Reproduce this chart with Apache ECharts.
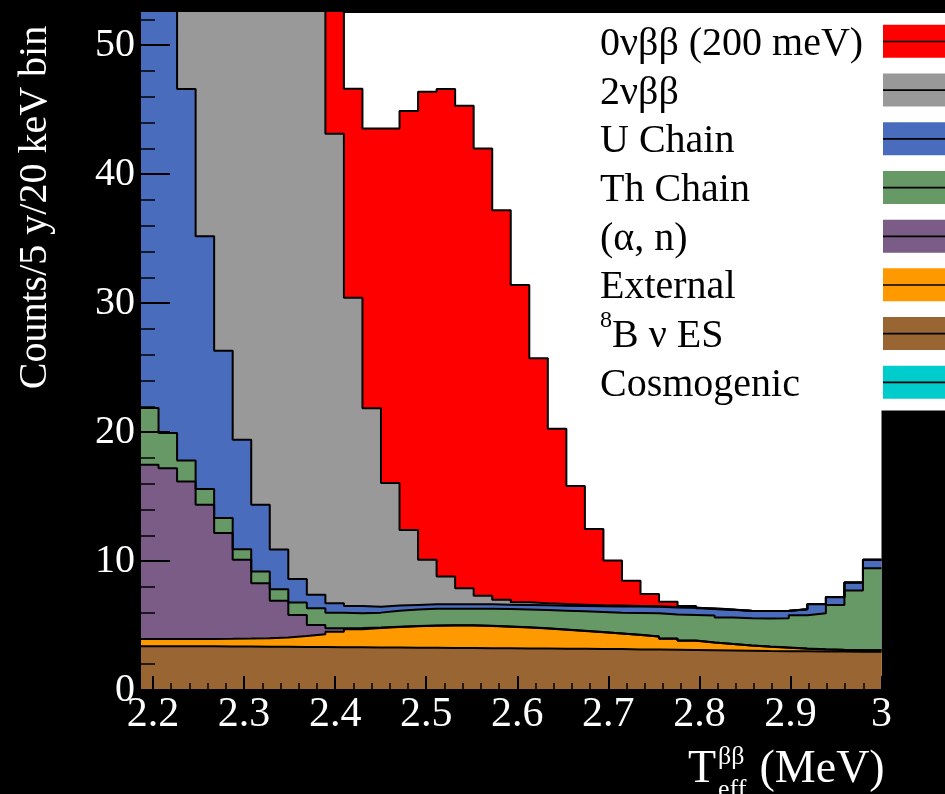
<!DOCTYPE html>
<html>
<head>
<meta charset="utf-8">
<script src="https://cdn.jsdelivr.net/npm/echarts@6/dist/echarts.min.js"></script>
<style>
  html, body { margin: 0; padding: 0; background: #000; }
  #chart { width: 945px; height: 794px; }
</style>
</head>
<body>
<div id="chart"></div>
<script>
// Energy binning of the stacked spectrum (MeV)
const X_FIRST_EDGE = 2.1857;
const X_LAST_EDGE = 3.0;
const BIN_COUNT = 40;

// Axis tick values
const xTickLabels = [2.2, 2.3, 2.4, 2.5, 2.6, 2.7, 2.8, 2.9, 3.0];
const yTickLabels = [0, 10, 20, 30, 40, 50];
const Y_MAX = 52.5;

// Counts per bin, one entry per bin from low to high energy
const cosmogenic = [0,0,0,0,0,0,0,0,0,0,0,0,0,0,0,0,0,0,0,0,0,0,0,0,0,0,0,0,0,0,0,0,0,0,0,0,0,0,0,0];
const b8Nu = [3.40,3.40,3.39,3.39,3.38,3.37,3.36,3.35,3.34,3.33,3.32,3.31,3.30,3.29,3.28,3.27,3.26,3.25,3.24,3.23,
              3.22,3.21,3.20,3.19,3.18,3.17,3.15,3.14,3.12,3.10,3.08,3.06,3.04,3.02,3.01,3.00,2.99,2.98,2.97,2.96];
const external = [0.55,0.55,0.56,0.57,0.59,0.62,0.66,0.73,0.84,1.00,1.20,1.41,1.50,1.59,1.67,1.72,1.75,1.75,1.72,1.67,
                  1.62,1.55,1.48,1.39,1.30,1.21,1.12,1.00,0.86,0.72,0.60,0.50,0.41,0.34,0.27,0.20,0.16,0.13,0.12,0.12];
const alphaN = [13.52,13.25,12.22,10.40,8.20,6.11,4.26,2.85,1.64,0.72,0.26,0.08,0.04,0.03,0.02,0.02,0.02,0.02,0.02,0.02,
                0.02,0.02,0.02,0.02,0.02,0.01,0.01,0.01,0.01,0.01,0.01,0.01,0.01,0.01,0.01,0.01,0.01,0.01,0.01,0.01];
const thChain = [4.40,2.73,1.63,1.22,1.16,0.82,0.91,0.89,0.96,1.29,1.22,1.15,1.16,1.24,1.28,1.29,1.27,1.28,1.32,1.36,
                 1.39,1.42,1.45,1.50,1.55,1.61,1.70,1.80,1.86,1.99,2.09,2.05,2.10,2.18,2.27,2.59,2.79,3.48,4.61,6.36];
const uChain = [46.1,38.1,28.8,19.6,12.97,8.48,5.17,3.08,1.82,1.04,0.73,0.57,0.45,0.40,0.35,0.35,0.35,0.35,0.35,0.34,
                0.35,0.37,0.39,0.42,0.45,0.48,0.49,0.50,0.55,0.56,0.50,0.60,0.57,0.57,0.57,0.46,0.70,0.60,0.62,0.65];
const twoNu = [240,200,165,135,112,95,80,68,58,50,36.4,23.9,15.4,9.5,5.8,3.45,2.15,1.25,0.65,0.38,
               0.20,0.15,0.12,0.10,0.08,0.07,0.05,0.04,0.03,0.02,0.01,0.01,0.01,0.01,0.01,0.01,0.01,0.01,0.01,0.01];
const zeroNu = [0.04,0.08,0.15,0.3,0.6,1.0,1.8,3.0,4.8,7.5,11.5,16.2,21.7,27.5,32.5,36.3,37.8,37.4,34.7,30.2,
                24.6,19.0,13.6,9.2,5.9,3.5,1.95,0.95,0.41,0.12,0.05,0.02,0.01,0,0,0,0,0,0,0];

// Stack order: first entry sits at the bottom
const components = [
  { name: 'Cosmogenic',     color: '#00cccc', values: cosmogenic },
  { name: '8B ν ES',        color: '#996633', values: b8Nu },
  { name: 'External',       color: '#ff9900', values: external },
  { name: '(α, n)',         color: '#7a5c87', values: alphaN },
  { name: 'Th Chain',       color: '#669966', values: thChain },
  { name: 'U Chain',        color: '#4a6cbd', values: uChain },
  { name: '2νββ',           color: '#999999', values: twoNu },
  { name: '0νββ (200 meV)', color: '#ff0000', values: zeroNu }
];
const legendOrder = ['0νββ (200 meV)', '2νββ', 'U Chain', 'Th Chain', '(α, n)', 'External', '8B ν ES', 'Cosmogenic'];

const SERIF = 'Liberation Serif';
const binWidth = (X_LAST_EDGE - X_FIRST_EDGE) / BIN_COUNT;
const binEdges = [];
for (let i = 0; i <= BIN_COUNT; i++) binEdges.push(X_FIRST_EDGE + i * binWidth);

// minor ticks every 20 keV between the labelled ticks
const xMinorTicks = [];
for (let k = 110; k <= 150; k++) { if (k % 5 !== 0) xMinorTicks.push(k / 50); }
const yMinorTicks = [];
for (let v = 2; v < Y_MAX; v += 2) { if (v % 10 !== 0) yMinorTicks.push(v); }

// Running totals of the stack: each layer's top edge
let running = new Array(BIN_COUNT).fill(0);
const layers = components.map(c => {
  running = running.map((s, i) => s + c.values[i]);
  return Object.assign({}, c, { top: running.slice() });
});

// histogram as a step line: one point on every low edge plus the closing edge
function histPoints(values) {
  return binEdges.map((x, i) => [x, values[Math.min(i, values.length - 1)]]);
}

const colorOf = {};
components.forEach(c => { colorOf[c.name] = c.color; });

// Paint from the top layer down so each lower layer covers the one above it
const series = layers.slice().reverse().map(l => ({
  name: l.name,
  type: 'line',
  step: 'end',
  symbol: 'none',
  clip: true,
  lineStyle: { color: '#000', width: 2 },
  itemStyle: { color: l.color },
  areaStyle: { color: l.color, opacity: 1, origin: 'start' },
  emphasis: { disabled: true },
  data: histPoints(l.top)
}));

const chart = echarts.init(document.getElementById('chart'), null, { renderer: 'canvas' });

const xAxisBase = {
  type: 'value',
  min: X_FIRST_EDGE,
  max: X_LAST_EDGE,
  position: 'bottom',
  z: 10,
  splitLine: { show: false }
};
const yAxisBase = {
  type: 'value',
  min: 0,
  max: Y_MAX,
  position: 'left',
  z: 10,
  splitLine: { show: false }
};

chart.setOption({
  animation: false,
  backgroundColor: '#000',
  grid: {
    left: 140, right: 63.5, top: 13, bottom: 104,
    outerBoundsMode: 'none', containLabel: false,
    show: true, backgroundColor: '#fff', borderWidth: 0
  },
  legend: [
    {
      orient: 'vertical',
      left: 583,
      top: 13,
      padding: [4, 0, 4, 17],
      backgroundColor: '#fff',
      align: 'right',
      itemWidth: 62,
      itemHeight: 33,
      itemGap: 0,
      selectedMode: false,
      icon: 'rect',
      itemStyle: { borderWidth: 0 },
      data: legendOrder.map(n => ({ name: n, itemStyle: { color: colorOf[n], borderWidth: 0 } })),
      formatter: n => n === '8B ν ES' ? '{sup|8}{t8|B ν ES}' : '{t|' + n + '}',
      textStyle: {
        color: '#000', fontFamily: SERIF, fontSize: 40, lineHeight: 48.7,
        rich: {
          t:   { width: 278, align: 'left', fontFamily: SERIF, fontSize: 40, lineHeight: 48.7, color: '#000', padding: [6, 0, 0, 0] },
          t8:  { width: 266, align: 'left', fontFamily: SERIF, fontSize: 40, lineHeight: 48.7, color: '#000', padding: [6, 0, 0, 0] },
          sup: { width: 12, align: 'left', verticalAlign: 'top', fontFamily: SERIF, fontSize: 24, lineHeight: 36, color: '#000' }
        }
      }
    },
    {
      // thin dark line through the middle of each swatch
      orient: 'vertical',
      left: 883,
      top: 17.15,
      padding: 0,
      align: 'left',
      itemWidth: 62,
      itemHeight: 48.7,
      itemGap: 0,
      selectedMode: false,
      icon: 'path://M0,0L0.01,0M0,23.5H62V25.2H0ZM0,48.7L0.01,48.7',
      itemStyle: { color: '#000', borderWidth: 0 },
      data: legendOrder.map(n => ({ name: n, itemStyle: { color: '#000', borderWidth: 0 } })),
      formatter: () => '',
      textStyle: { fontSize: 1, lineHeight: 1 }
    }
  ],
  xAxis: [
    Object.assign({}, xAxisBase, {
      name: '{sp|}{sup|ββ}\n{t|T}{sp|}{u| (MeV)}\n{sp|}{sub|eff}',
      nameLocation: 'end',
      nameGap: 3.5,
      nameTextStyle: {
        color: '#fff', align: 'right', verticalAlign: 'top', padding: [61, 0, 0, 0],
        fontFamily: SERIF,
        rich: {
          sp:  { width: 30, align: 'left', lineHeight: 12, fontSize: 10 },
          sup: { width: 30, align: 'left', fontFamily: SERIF, fontSize: 26, lineHeight: 12, color: '#fff' },
          t:   { width: 30, align: 'left', fontFamily: SERIF, fontSize: 46, lineHeight: 14, color: '#fff' },
          u:   { width: 137, align: 'left', fontFamily: SERIF, fontSize: 46, lineHeight: 14, color: '#fff' },
          sub: { width: 30, align: 'left', fontFamily: SERIF, fontSize: 26, lineHeight: 26, color: '#fff' }
        }
      },
      axisLine: { show: true, lineStyle: { color: '#000', width: 2 } },
      axisTick: { show: true, inside: true, length: 14, customValues: xTickLabels, lineStyle: { color: '#000', width: 2 } },
      axisLabel: {
        show: true, customValues: xTickLabels, color: '#fff', fontFamily: SERIF, fontSize: 42, margin: 4,
        formatter: v => (Math.abs(v - 3) < 1e-9 ? '3' : v.toFixed(1))
      }
    }),
    Object.assign({}, xAxisBase, {
      axisLine: { show: false },
      axisTick: { show: true, inside: true, length: 7, customValues: xMinorTicks, lineStyle: { color: '#000', width: 1.5 } },
      axisLabel: { show: false }
    })
  ],
  yAxis: [
    Object.assign({}, yAxisBase, {
      name: 'Counts/5 y/20 keV bin',
      nameLocation: 'middle',
      nameRotate: 90,
      nameGap: 85,
      nameTextStyle: { color: '#fff', fontFamily: SERIF, fontSize: 40, padding: [0, 0, 0, 288] },
      axisLine: { show: true, lineStyle: { color: '#000', width: 2 } },
      axisTick: { show: true, inside: true, length: 30, customValues: yTickLabels, lineStyle: { color: '#000', width: 2 } },
      axisLabel: { show: true, customValues: yTickLabels, color: '#fff', fontFamily: SERIF, fontSize: 40, margin: 5 }
    }),
    Object.assign({}, yAxisBase, {
      axisLine: { show: false },
      axisTick: { show: true, inside: true, length: 15, customValues: yMinorTicks, lineStyle: { color: '#000', width: 1.5 } },
      axisLabel: { show: false }
    })
  ],
  series: series
});
</script>
</body>
</html>
